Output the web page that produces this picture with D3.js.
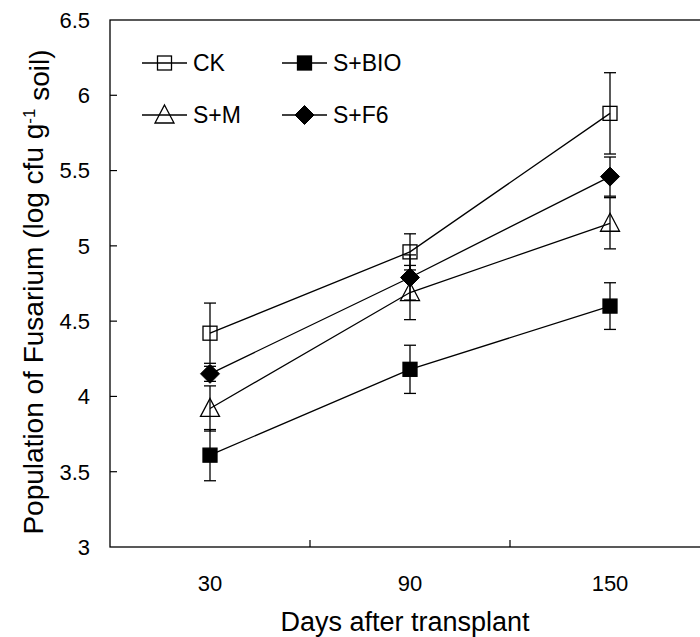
<!DOCTYPE html>
<html lang="en">
<head>
    <meta charset="UTF-8">
    <title>Fusarium population</title>
    <style>
        body { margin: 0; background: #fff; }
        svg { display: block; }
        text { font-family: "Liberation Sans", Arial, sans-serif; fill: #000; }
    </style>
</head>
<body>
<script src="https://d3js.org/d3.v7.min.js"></script>
<script>
    // data
    const days = ["30", "90", "150"];
    const seriesNames = ["CK", "S+BIO", "S+M", "S+F6"];
    const ckMean = [4.42, 4.96, 5.88];
    const ckErr = [0.20, 0.12, 0.27];
    const bioMean = [3.61, 4.18, 4.60];
    const bioErr = [0.17, 0.16, 0.155];
    const mMean = [3.92, 4.69, 5.15];
    const mErr = [0.15, 0.18, 0.17];
    const f6Mean = [4.15, 4.79, 5.46];
    const f6Err = [0.05, 0.15, 0.13];
    const yTicks = [3, 3.5, 4, 4.5, 5, 5.5, 6, 6.5];

    const series = [
        { name: seriesNames[0], mean: ckMean, err: ckErr, symbol: "square", filled: false },
        { name: seriesNames[1], mean: bioMean, err: bioErr, symbol: "square", filled: true },
        { name: seriesNames[2], mean: mMean, err: mErr, symbol: "triangle", filled: false },
        { name: seriesNames[3], mean: f6Mean, err: f6Err, symbol: "diamond", filled: true }
    ];

    const width = 700, height = 637;
    const plotL = 110, plotR = 710, plotT = 20, plotB = 547;

    const svg = d3.select("body").append("svg")
        .attr("width", width)
        .attr("height", height);

    const x = d3.scaleBand().domain(days).range([plotL, plotR]);
    const y = d3.scaleLinear().domain([3, 6.5]).range([plotB, plotT]);

    // frame
    svg.append("rect")
        .attr("x", plotL).attr("y", plotT)
        .attr("width", plotR - plotL).attr("height", plotB - plotT)
        .attr("fill", "none").attr("stroke", "#000").attr("stroke-width", 1.3);

    // y ticks (inward)
    svg.append("g")
        .selectAll("line")
        .data(yTicks.slice(1, -1))
        .enter().append("line")
        .attr("x1", plotL).attr("x2", plotL + 7)
        .attr("y1", d => y(d)).attr("y2", d => y(d))
        .attr("stroke", "#000").attr("stroke-width", 1.2);

    svg.append("g")
        .selectAll("text")
        .data(yTicks)
        .enter().append("text")
        .attr("x", 90)
        .attr("y", d => y(d))
        .attr("dy", "0.36em")
        .attr("text-anchor", "end")
        .style("font-size", "22px")
        .text(d => d);

    // x ticks at band boundaries
    svg.append("g")
        .selectAll("line")
        .data(days.slice(1))
        .enter().append("line")
        .attr("x1", d => x(d)).attr("x2", d => x(d))
        .attr("y1", plotB).attr("y2", plotB - 7)
        .attr("stroke", "#000").attr("stroke-width", 1.2);

    svg.append("g")
        .selectAll("text")
        .data(days)
        .enter().append("text")
        .attr("x", d => x(d) + x.bandwidth() / 2)
        .attr("y", 591)
        .attr("text-anchor", "middle")
        .style("font-size", "22px")
        .text(d => d);

    // axis titles
    svg.append("text")
        .attr("x", 405)
        .attr("y", 631)
        .attr("text-anchor", "middle")
        .style("font-size", "27px")
        .text("Days after transplant");

    const yTitle = svg.append("text")
        .attr("transform", `translate(43,292) rotate(-90)`)
        .attr("text-anchor", "middle")
        .style("font-size", "28px");
    yTitle.append("tspan").text("Population of Fusarium (log cfu g");
    yTitle.append("tspan").attr("dy", "-0.5em").style("font-size", "17px").text("-1");
    yTitle.append("tspan").attr("dy", "0.5em").text(" soil)");

    function drawMarker(g, s, cx, cy) {
        const fill = s.filled ? "#000" : "none";
        if (s.symbol === "square") {
            g.append("rect")
                .attr("x", cx - 7).attr("y", cy - 7)
                .attr("width", 14).attr("height", 14)
                .attr("fill", fill).attr("stroke", "#000").attr("stroke-width", 1.3);
        } else if (s.symbol === "triangle") {
            g.append("path")
                .attr("d", `M${cx},${cy - 10}L${cx + 9.5},${cy + 8}L${cx - 9.5},${cy + 8}Z`)
                .attr("fill", fill).attr("stroke", "#000").attr("stroke-width", 1.3);
        } else {
            g.append("path")
                .attr("d", `M${cx},${cy - 9.5}L${cx + 9.5},${cy}L${cx},${cy + 9.5}L${cx - 9.5},${cy}Z`)
                .attr("fill", fill).attr("stroke", "#000").attr("stroke-width", 1);
        }
    }

    const cxOf = i => x(days[i]) + x.bandwidth() / 2;

    const line = d3.line()
        .x((d, i) => cxOf(i))
        .y(d => y(d));

    // connecting lines
    series.forEach(s => {
        svg.append("path")
            .attr("d", line(s.mean))
            .attr("fill", "none")
            .attr("stroke", "#000")
            .attr("stroke-width", 1.3);
    });

    // error bars
    series.forEach(s => {
        const g = svg.append("g").attr("stroke", "#000").attr("stroke-width", 1.3);
        s.mean.forEach((m, i) => {
            const cx = cxOf(i);
            const y1 = y(m + s.err[i]), y2 = y(m - s.err[i]);
            g.append("line").attr("x1", cx).attr("x2", cx).attr("y1", y1).attr("y2", y2);
            g.append("line").attr("x1", cx - 6).attr("x2", cx + 6).attr("y1", y1).attr("y2", y1);
            g.append("line").attr("x1", cx - 6).attr("x2", cx + 6).attr("y1", y2).attr("y2", y2);
        });
    });

    // markers
    series.forEach(s => {
        const g = svg.append("g");
        s.mean.forEach((m, i) => drawMarker(g, s, cxOf(i), y(m)));
    });

    // legend
    const legendCols = [142, 282];
    const legendRows = [63, 115];
    series.forEach((s, k) => {
        const lx = legendCols[k % 2], ly = legendRows[Math.floor(k / 2)];
        const g = svg.append("g");
        g.append("line")
            .attr("x1", lx).attr("x2", lx + 45)
            .attr("y1", ly).attr("y2", ly)
            .attr("stroke", "#000").attr("stroke-width", 1.3);
        drawMarker(g, s, lx + 22.5, ly);
        g.append("text")
            .attr("x", lx + 51)
            .attr("y", ly)
            .attr("dy", "0.36em")
            .style("font-size", "23px")
            .text(s.name);
    });
</script>
</body>
</html>
